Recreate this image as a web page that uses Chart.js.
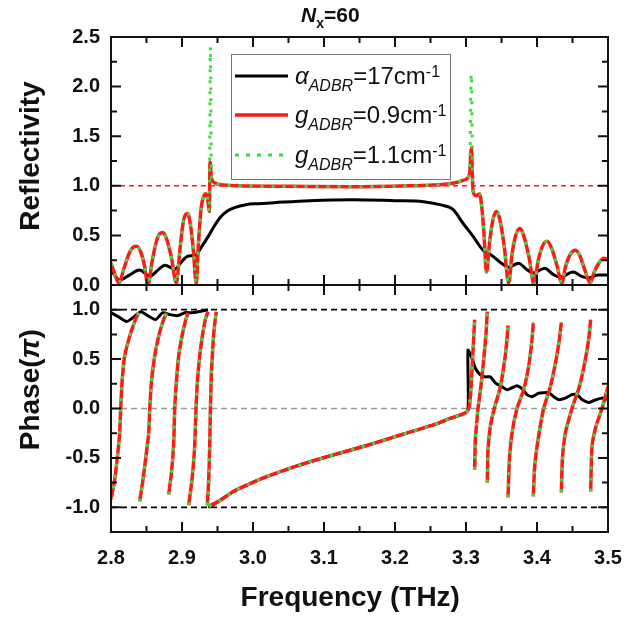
<!DOCTYPE html>
<html><head><meta charset="utf-8">
<script src="https://cdn.jsdelivr.net/npm/chart.js@4.4.1/dist/chart.umd.min.js"></script>
<style>html,body{margin:0;padding:0;background:#fff;}#wrap{position:relative;width:626px;height:617px;}</style>
</head><body><div id="wrap"><canvas id="c" width="626" height="617"></canvas></div>
<script>
// ---- tick labels ----
const xTickLabels = ['2.8','2.9','3.0','3.1','3.2','3.3','3.4','3.5'];
const xMinorTicks = [2.85,2.95,3.05,3.15,3.25,3.35,3.45];
const reflTickLabels = ['0.0','0.5','1.0','1.5','2.0','2.5'];
const reflMinorTicks = [0.25,0.75,1.25,1.75,2.25];
const phaseTickLabels = ['-1.0','-0.5','0.0','0.5','1.0'];
const phaseMinorTicks = [-0.75,-0.25,0.25,0.75];

// ---- legend / series names ----
const seriesNames = [
  [{t:'\u03B1',k:'i'},{t:'ADBR',k:'sub'},{t:'=17cm',k:'n'},{t:'-1',k:'sup'}],
  [{t:'g',k:'i'},{t:'ADBR',k:'sub'},{t:'=0.9cm',k:'n'},{t:'-1',k:'sup'}],
  [{t:'g',k:'i'},{t:'ADBR',k:'sub'},{t:'=1.1cm',k:'n'},{t:'-1',k:'sup'}]
];

// ---- Reflectivity: alpha_ADBR = 17 cm^-1 (black) ----
const reflAbsX = [2.800,2.803,2.812,2.826,2.840,2.855,2.866,2.876,2.890,2.900,2.908,2.919,2.928,2.937,2.946,2.955,2.965,2.974,2.990,3.007,3.030,3.080,3.140,3.200,3.240,3.263,3.282,3.296,3.310,3.324,3.336,3.348,3.360,3.374,3.385,3.395,3.411,3.422,3.432,3.451,3.462,3.472,3.486,3.500];
const reflAbsY = [0.14,0.12,0.05,0.10,0.15,0.09,0.15,0.20,0.16,0.24,0.29,0.30,0.39,0.49,0.60,0.69,0.75,0.78,0.81,0.82,0.83,0.85,0.86,0.85,0.84,0.81,0.76,0.62,0.49,0.35,0.30,0.23,0.18,0.22,0.16,0.12,0.17,0.11,0.08,0.13,0.09,0.07,0.10,0.10];

// ---- Reflectivity: g_ADBR = 0.9 cm^-1 (red) ----
const reflG09X = [2.800,2.805,2.811,2.818,2.825,2.831,2.836,2.842,2.847,2.852,2.858,2.864,2.869,2.873,2.878,2.885,2.892,2.897,2.901,2.905,2.908,2.912,2.916,2.920,2.923,2.927,2.931,2.934,2.9365,2.9385,2.9395,2.9415,2.946,2.955,2.980,3.050,3.140,3.220,3.260,3.285,3.298,3.305,3.3075,3.3095,3.311,3.315,3.319,3.322,3.325,3.329,3.333,3.338,3.343,3.348,3.354,3.360,3.365,3.370,3.376,3.382,3.389,3.396,3.401,3.407,3.414,3.420,3.428,3.435,3.440,3.447,3.454,3.460,3.467,3.475,3.480,3.487,3.494,3.500];
const reflG09Y = [0.22,0.12,0.02,0.16,0.31,0.38,0.39,0.33,0.20,0.00,0.24,0.44,0.52,0.53,0.47,0.28,0.02,0.35,0.60,0.71,0.72,0.60,0.35,0.02,0.40,0.78,0.90,0.92,0.85,0.74,1.24,1.08,1.03,1.01,1.00,0.995,0.99,1.00,1.01,1.03,1.06,1.12,1.38,1.00,0.92,0.90,0.92,0.80,0.55,0.13,0.42,0.66,0.74,0.65,0.38,0.02,0.32,0.50,0.57,0.48,0.27,0.00,0.22,0.38,0.44,0.38,0.20,0.02,0.18,0.31,0.35,0.30,0.16,0.02,0.12,0.22,0.27,0.26];

// ---- Reflectivity: g_ADBR = 1.1 cm^-1 (green dotted) ----
const reflG11X = [2.800,2.805,2.811,2.818,2.825,2.831,2.836,2.842,2.847,2.852,2.858,2.864,2.869,2.873,2.878,2.885,2.892,2.897,2.901,2.905,2.908,2.912,2.916,2.920,2.923,2.927,2.931,2.934,2.9365,2.9385,2.9400,2.9415,2.946,2.955,2.980,3.050,3.140,3.220,3.260,3.285,3.298,3.305,3.3075,3.3095,3.311,3.315,3.319,3.322,3.325,3.329,3.333,3.338,3.343,3.348,3.354,3.360,3.365,3.370,3.376,3.382,3.389,3.396,3.401,3.407,3.414,3.420,3.428,3.435,3.440,3.447,3.454,3.460,3.467,3.475,3.480,3.487,3.494,3.500];
const reflG11Y = [0.22,0.12,0.02,0.16,0.31,0.38,0.39,0.33,0.20,0.00,0.24,0.44,0.52,0.53,0.47,0.28,0.02,0.35,0.60,0.71,0.72,0.60,0.35,0.02,0.40,0.78,0.90,0.92,0.85,0.74,2.40,1.08,1.03,1.01,1.00,0.995,0.99,1.00,1.01,1.03,1.06,1.12,2.13,1.00,0.92,0.90,0.92,0.80,0.55,0.13,0.42,0.66,0.74,0.65,0.38,0.02,0.32,0.50,0.57,0.48,0.27,0.00,0.22,0.38,0.44,0.38,0.20,0.02,0.18,0.31,0.35,0.30,0.16,0.02,0.12,0.22,0.27,0.26];

// ---- Phase (pi): alpha_ADBR = 17 cm^-1 (black) ----
const phaseAbsX = [2.800,2.810,2.822,2.831,2.842,2.854,2.863,2.873,2.883,2.894,2.904,2.913,2.923,2.9366,2.9368,2.937,2.945,2.9535,2.9723,2.9958,3.0192,3.0662,3.1131,3.160,3.207,3.254,3.2775,3.2944,3.3028,3.3028,3.3084,3.3131,3.3202,3.3272,3.3343,3.3413,3.3507,3.3577,3.3648,3.3718,3.3789,3.386,3.393,3.4024,3.4094,3.4164,3.4235,3.4305,3.4399,3.4493,3.4563,3.4634,3.4728,3.4798,3.4915,3.500];
const phaseAbsY = [0.97,0.93,0.88,0.92,0.98,0.93,0.90,0.97,0.95,0.94,0.97,0.97,0.98,1.00,null,-1.00,-0.97,-0.93,-0.84,-0.76,-0.69,-0.57,-0.47,-0.375,-0.27,-0.165,-0.10,-0.06,-0.02,0.59,0.51,0.41,0.34,0.32,0.32,0.26,0.22,0.19,0.21,0.23,0.20,0.14,0.12,0.155,0.16,0.16,0.12,0.09,0.105,0.14,0.14,0.09,0.06,0.08,0.105,0.09];

// ---- Phase (pi): g_ADBR = 0.9 cm^-1 (red); null = wrap ----
const phaseG09X = [
 2.800,2.8052,2.809,2.8122,2.8136,2.8155,2.8192,2.8263,2.8333,2.839,2.8395,
 2.8404,2.8451,2.8498,2.8531,2.8545,2.8568,2.8615,2.8671,2.8732,2.878,2.879,
 2.8812,2.885,2.8883,2.8897,2.892,2.8953,2.900,2.9047,2.9085,2.909,
 2.9094,2.9141,2.9178,2.9197,2.9216,2.9249,2.9286,2.9329,2.9366,2.9367,
 2.9357,2.9376,2.939,2.940,2.9414,2.9437,2.9461,2.9484,2.9485,
 2.9375,2.9535,2.9723,2.9958,3.0192,3.0662,3.1131,3.160,3.207,3.254,3.2775,3.2944,3.3014,3.3047,3.3075,3.3099,3.3122,3.3123,
 3.3122,3.3131,3.315,3.3169,3.3216,3.3254,3.3282,3.330,3.3301,
 3.330,3.331,3.3343,3.3399,3.3484,3.3545,3.3577,3.3592,3.3593,
 3.3592,3.3611,3.3648,3.3718,3.3812,3.3883,3.393,3.3948,3.3949,
 3.3948,3.3967,3.4014,3.4094,3.4188,3.4268,3.4315,3.4343,3.4344,
 3.4343,3.4357,3.4399,3.4493,3.4596,3.4671,3.4728,3.4756,3.4757,
 3.4756,3.4775,3.4831,3.4915,3.500];
const phaseG09Y = [
 -0.92,-0.72,-0.49,-0.25,-0.01,0.26,0.53,0.73,0.88,0.97,null,
 -0.94,-0.72,-0.45,-0.25,-0.01,0.26,0.53,0.73,0.88,0.97,null,
 -0.87,-0.66,-0.35,-0.01,0.26,0.53,0.73,0.88,0.97,null,
 -0.98,-0.72,-0.39,-0.01,0.26,0.53,0.73,0.90,0.98,null,
 -0.98,-0.72,-0.39,-0.01,0.36,0.66,0.86,0.98,null,
 -0.99,-0.93,-0.84,-0.76,-0.69,-0.57,-0.47,-0.375,-0.27,-0.165,-0.10,-0.06,-0.03,0.02,0.26,0.59,0.90,null,
 -0.62,-0.32,-0.15,0.00,0.26,0.53,0.76,0.98,null,
 -0.75,-0.42,-0.18,0.00,0.22,0.49,0.70,0.84,null,
 -0.90,-0.52,-0.25,0.00,0.19,0.43,0.70,0.87,null,
 -0.89,-0.59,-0.32,0.00,0.22,0.49,0.70,0.87,null,
 -0.85,-0.52,-0.25,0.00,0.22,0.46,0.70,0.90,null,
 -0.84,-0.38,-0.18,0.00,0.22];

// ---- Phase (pi): g_ADBR = 1.1 cm^-1 (green) : same readings as red (curves coincide) ----
const phaseG11X = phaseG09X;
const phaseG11Y = phaseG09Y;

// ---- reference levels ----
const refX = [2.8, 3.5];
const reflUnity = [1, 1];
const phasePlusOne = [1, 1];
const phaseMinusOne = [-1, -1];
const phaseZero = [0, 0];

function pts(xs, ys){ return xs.map((x,i)=>({x:x, y:ys[i]})); }
const FONT = "'Liberation Sans', Arial, sans-serif";
const RED = '#ff1a1a', GREEN = '#3cdc3c', BLACK = '#000000';

function line(data, yAxisID, color, width, order, extra){
  return Object.assign({data:data, yAxisID:yAxisID, borderColor:color, borderWidth:width, order:order,
    pointRadius:0, fill:false, spanGaps:false, borderCapStyle:'butt', borderJoinStyle:'round'}, extra||{});
}

const datasets = [
  line(pts(refX, reflUnity), 'yR', RED, 1.5, 9, {borderDash:[5,4]}),
  line(pts(refX, phasePlusOne), 'yP', BLACK, 1.8, 9, {borderDash:[6,4]}),
  line(pts(refX, phaseMinusOne), 'yP', BLACK, 1.8, 9, {borderDash:[6,4]}),
  line(pts(refX, phaseZero), 'yP', '#9a9a9a', 1.5, 9, {borderDash:[6,4]}),
  line(pts(reflAbsX, reflAbsY), 'yR', BLACK, 3, 3, {cubicInterpolationMode:'monotone'}),
  line(pts(reflG09X, reflG09Y), 'yR', RED, 3.5, 2, {cubicInterpolationMode:'monotone'}),
  line(pts(reflG11X, reflG11Y), 'yR', GREEN, 3, 1, {cubicInterpolationMode:'monotone', borderDash:[3,8]}),
  line(pts(phaseAbsX, phaseAbsY), 'yP', BLACK, 3, 3, {tension:0.2}),
  line(pts(phaseG09X, phaseG09Y), 'yP', RED, 3.5, 2, {tension:0.2}),
  line(pts(phaseG11X, phaseG11Y), 'yP', GREEN, 3, 1, {tension:0.2, borderDash:[3,8]})
];

function setTicks(labels){ return function(s){ s.ticks = labels.map(l=>({value:parseFloat(l)})); }; }
function tickFont(){ return {family:FONT, size:20, weight:'bold'}; }

function drawRich(ctx, x, base, parts, size){
  const sub = Math.round(size*0.67);
  parts.forEach(p=>{
    let f, dy=0;
    if(p.k==='i'){ f='italic '+size+'px '+FONT; }
    else if(p.k==='sub'){ f='italic '+sub+'px '+FONT; dy=7; }
    else if(p.k==='sup'){ f=sub+'px '+FONT; dy=-7; }
    else if(p.k==='bi'){ f='italic bold '+size+'px '+FONT; }
    else if(p.k==='bsub'){ f='bold '+sub+'px '+FONT; dy=6; }
    else if(p.k==='b'){ f='bold '+size+'px '+FONT; }
    else { f=size+'px '+FONT; }
    ctx.font=f; ctx.fillText(p.t, x, base+dy); x += ctx.measureText(p.t).width;
  });
}

const decor = {
  id:'decor',
  afterDatasetsDraw(chart){
    const ctx = chart.ctx, ca = chart.chartArea, X = chart.scales.x;
    const panels = [{s:chart.scales.yR, maj:reflTickLabels.map(parseFloat), min:reflMinorTicks},
                    {s:chart.scales.yP, maj:phaseTickLabels.map(parseFloat), min:phaseMinorTicks}];
    ctx.save();
    ctx.strokeStyle='#111'; ctx.lineWidth=2; ctx.setLineDash([]);
    const xMaj = xTickLabels.map(parseFloat);
    panels.forEach(P=>{
      const t=P.s.top, b=P.s.bottom;
      ctx.strokeRect(ca.left, t, ca.right-ca.left, b-t);
      ctx.beginPath();
      xMaj.forEach(v=>{const px=X.getPixelForValue(v); ctx.moveTo(px,b); ctx.lineTo(px,b-10); ctx.moveTo(px,t); ctx.lineTo(px,t+10);});
      xMinorTicks.forEach(v=>{const px=X.getPixelForValue(v); ctx.moveTo(px,b); ctx.lineTo(px,b-6); ctx.moveTo(px,t); ctx.lineTo(px,t+6);});
      P.maj.forEach(v=>{const py=P.s.getPixelForValue(v); ctx.moveTo(ca.left,py); ctx.lineTo(ca.left+10,py); ctx.moveTo(ca.right,py); ctx.lineTo(ca.right-10,py);});
      P.min.forEach(v=>{const py=P.s.getPixelForValue(v); ctx.moveTo(ca.left,py); ctx.lineTo(ca.left+6,py); ctx.moveTo(ca.right,py); ctx.lineTo(ca.right-6,py);});
      ctx.stroke();
    });
    // axis titles
    ctx.fillStyle='#111';
    ctx.textAlign='center'; ctx.textBaseline='middle';
    const yR = chart.scales.yR, yP = chart.scales.yP;
    ctx.save(); ctx.translate(31, yR.getPixelForValue(1.3)); ctx.rotate(-Math.PI/2);
    ctx.font='bold 28px '+FONT; ctx.fillText('Reflectivity',0,0); ctx.restore();
    ctx.save(); ctx.translate(31, yP.getPixelForValue(0.19)); ctx.rotate(-Math.PI/2);
    ctx.font='bold 28px '+FONT;
    const w1=ctx.measureText('Phase(').width; ctx.font='italic bold 28px '+FONT; const w2=ctx.measureText('\u03C0').width;
    ctx.font='bold 28px '+FONT; const w3=ctx.measureText(')').width;
    let sx=-(w1+w2+w3)/2; ctx.textAlign='left';
    ctx.fillText('Phase(',sx,0); sx+=w1; ctx.font='italic bold 28px '+FONT; ctx.fillText('\u03C0',sx,0); sx+=w2;
    ctx.font='bold 28px '+FONT; ctx.fillText(')',sx,0);
    ctx.restore();
    ctx.textAlign='center'; ctx.textBaseline='alphabetic';
    ctx.font='bold 28px '+FONT; ctx.fillText('Frequency (THz)', X.getPixelForValue(3.137), 606);
    // title
    ctx.textAlign='left';
    drawRich(ctx, 301, 22, [{t:'N',k:'bi'},{t:'x',k:'bsub'},{t:'=60',k:'b'}], 21);
    // legend
    const lx=231.5, ly=54.5, lw=219, lh=125;
    ctx.fillStyle='#fff'; ctx.fillRect(lx,ly,lw,lh);
    ctx.strokeStyle='#777'; ctx.lineWidth=1; ctx.strokeRect(lx,ly,lw,lh);
    const rows=[76,115,155], cols=[BLACK,RED,GREEN], wid=[3,3.5,3], dash=[[],[],[4,7]];
    rows.forEach((ry,i)=>{
      ctx.beginPath(); ctx.strokeStyle=cols[i]; ctx.lineWidth=wid[i]; ctx.setLineDash(dash[i]);
      ctx.moveTo(235,ry); ctx.lineTo(288,ry); ctx.stroke(); ctx.setLineDash([]);
      ctx.fillStyle='#111';
      drawRich(ctx, 295, ry+8, seriesNames[i], 24);
    });
    ctx.restore();
  }
};

new Chart(document.getElementById('c'), {
  type:'line',
  data:{datasets:datasets},
  options:{
    responsive:false, animation:false, devicePixelRatio:1,
    layout:{padding:{top:37,right:18,left:0,bottom:0}},
    plugins:{legend:{display:false}, tooltip:{enabled:false}},
    scales:{
      x:{type:'linear', min:2.8, max:3.5, position:'bottom',
         grid:{display:false, drawTicks:false}, border:{display:false},
         afterBuildTicks:setTicks(xTickLabels),
         afterFit:function(s){ s.height=85; s.paddingLeft=0; s.paddingRight=0; },
         ticks:{font:tickFont(), color:'#111', padding:14, maxRotation:0, autoSkip:false,
                callback:function(v,i){ return xTickLabels[i]; }}},
      yP:{type:'linear', position:'left', stack:'panels', stackWeight:247, min:-1.25, max:1.25,
         grid:{display:false, drawTicks:false}, border:{display:false},
         afterBuildTicks:setTicks(phaseTickLabels),
         afterFit:function(s){ s.width=111; s.paddingTop=0; s.paddingBottom=0; },
         ticks:{font:tickFont(), color:'#111', padding:11, autoSkip:false,
                callback:function(v,i){ return phaseTickLabels[i]; }}},
      yR:{type:'linear', position:'left', stack:'panels', stackWeight:248, min:0, max:2.5,
         grid:{display:false, drawTicks:false}, border:{display:false},
         afterBuildTicks:setTicks(reflTickLabels),
         afterFit:function(s){ s.width=111; s.paddingTop=0; s.paddingBottom=0; },
         ticks:{font:tickFont(), color:'#111', padding:11, autoSkip:false,
                callback:function(v,i){ return reflTickLabels[i]; }}}
    }
  },
  plugins:[decor]
});
</script></body></html>
